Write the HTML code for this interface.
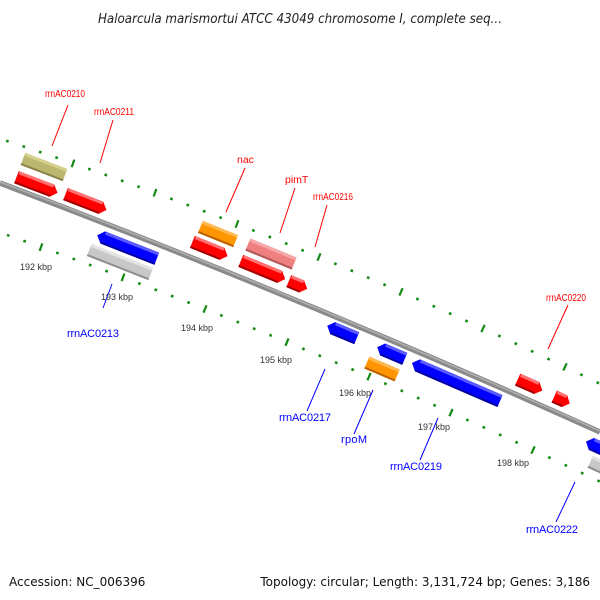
<!DOCTYPE html>
<html><head><meta charset="utf-8"><style>
html,body{margin:0;padding:0;background:#fff;width:600px;height:600px;overflow:hidden}
svg{display:block}
</style></head><body>
<svg id="s" width="600" height="600" xmlns="http://www.w3.org/2000/svg" font-family="'DejaVu Sans','Liberation Sans',sans-serif">
<text x="300" y="23" text-anchor="middle" font-size="13" font-style="italic" fill="#222" textLength="404" lengthAdjust="spacingAndGlyphs">Haloarcula marismortui ATCC 43049 chromosome I, complete seq...</text>
<g id="dots"></g>
<path d="M0,183 Q300,296.5 600,432" fill="none" stroke="#8a8a8a" stroke-width="5.5"/>
<path d="M0,182 Q300,295.5 600,431" fill="none" stroke="#b0b0b0" stroke-width="1.5"/>
<g id="genes"></g>
<g font-family="'Liberation Sans',sans-serif" font-size="10">
<g stroke="#f00" stroke-width="1">
<line x1="68" y1="105" x2="52" y2="146"/><line x1="113" y1="120" x2="100" y2="163"/>
<line x1="245" y1="168" x2="226" y2="212"/><line x1="295" y1="188" x2="280" y2="233"/>
<line x1="327" y1="205" x2="315" y2="247"/><line x1="568" y1="305" x2="548" y2="349"/>
</g>
<g fill="#f00" font-size="10.5">
<text x="45" y="97" textLength="40" lengthAdjust="spacingAndGlyphs">rrnAC0210</text>
<text x="94" y="115" textLength="40" lengthAdjust="spacingAndGlyphs">rrnAC0211</text>
<text x="237" y="163">nac</text>
<text x="285" y="183">pimT</text>
<text x="313" y="200" textLength="40" lengthAdjust="spacingAndGlyphs">rrnAC0216</text>
<text x="546" y="301" textLength="40" lengthAdjust="spacingAndGlyphs">rrnAC0220</text>
</g>
<g stroke="#00f" stroke-width="1">
<line x1="112" y1="284" x2="103" y2="308"/><line x1="325" y1="369" x2="307" y2="411"/>
<line x1="373" y1="390" x2="354" y2="434"/><line x1="438" y1="418" x2="420" y2="460"/>
<line x1="575" y1="482" x2="556" y2="522"/>
</g>
<g fill="#00f" font-size="11">
<text x="67" y="337" textLength="52" lengthAdjust="spacing">rrnAC0213</text>
<text x="279" y="421" textLength="52" lengthAdjust="spacing">rrnAC0217</text>
<text x="341" y="443" textLength="26" lengthAdjust="spacing">rpoM</text>
<text x="390" y="470" textLength="52" lengthAdjust="spacing">rrnAC0219</text>
<text x="526" y="533" textLength="52" lengthAdjust="spacing">rrnAC0222</text>
</g>
<g fill="#333" font-size="9">
<text x="20" y="270">192 kbp</text><text x="101" y="300">193 kbp</text>
<text x="181" y="331">194 kbp</text><text x="260" y="363">195 kbp</text>
<text x="339" y="396">196 kbp</text><text x="418" y="430">197 kbp</text>
<text x="497" y="466">198 kbp</text>
</g>
</g>
<text x="9" y="586" font-size="12" fill="#111">Accession: NC_006396</text>
<text x="590" y="586" font-size="12" fill="#111" text-anchor="end">Topology: circular; Length: 3,131,724 bp; Genes: 3,186</text>
</svg>
<script>
var NS="http://www.w3.org/2000/svg";
function el(t,a,p){var e=document.createElementNS(NS,t);for(var k in a)e.setAttribute(k,a[k]);p.appendChild(e);return e;}
function curve(A,B,C){return function(x){return {y:A+B*x+C*x*x,s:B+2*C*x};};}
var up=curve(138.7,0.3282,1.34e-4), lo=curve(232.5,0.3513,1.065e-4);
var dots=document.getElementById('dots');
function track(f,x0){
 for(var k=-6;k<40;k++){var x=x0+16.4*k; if(x<2||x>600)continue;
  var p=f(x),a=Math.atan(p.s);
  if(((k%5)+5)%5==0){var dx=Math.sin(a)*4,dy=-Math.cos(a)*4;
   el('line',{x1:x-dx,y1:p.y-dy,x2:x+dx,y2:p.y+dy,stroke:'#138a13','stroke-width':2.2},dots);}
  else el('rect',{x:x-1.3,y:p.y-1.3,width:2.6,height:2.6,fill:'#138a13',transform:'rotate('+(a*180/Math.PI)+' '+x+' '+p.y+')'},dots);
 }}
track(up,73);track(lo,41);
var C={red:['#f00','#ff7070','#a00000'],blue:['#00f','#5a5aff','#0000a0'],olive:['#bdb66e','#d6d08e','#8a844c'],
 orange:['#ff9500','#ffb850','#b86000'],pink:['#f08080','#f6a8a8','#b05858'],gray:['#c8c8c8','#e4e4e4','#8e8e8e']};
var G=[[44,167,45,'olive',0],[37,185,44,'red',1],[86,202,44,'red',1],[127,247,64,'blue',-1],[120,262,66,'gray',0],
[218,234,38,'orange',0],[210,249,38,'red',1],[271,254,50,'pink',0],[263,270,48,'red',1],[298,285,20,'red',1],
[342,332,32,'blue',-1],[391,353,30,'blue',-1],[382,369,33,'orange',0],[456,382,96,'blue',-1],[530,385,27,'red',1],
[562,400,17,'red',1],[596,446,22,'blue',-1],[604,468,30,'gray',0]];
var gg=document.getElementById('genes');
G.forEach(function(g){var x=g[0],y=g[1],L=g[2],c=C[g[3]],d=g[4],h=6.5;
 var a=Math.atan(0.378+1.22e-4*x)*180/Math.PI;
 var grp=el('g',{transform:'translate('+x+' '+y+') rotate('+a+')'},gg);
 var l=-L/2,r=L/2,t=Math.min(6,L/3),pts;
 if(d==1)pts=[[l,-h],[r-t,-h],[r,0],[r-t,h],[l,h]];
 else if(d==-1)pts=[[l+t,-h],[r,-h],[r,h],[l+t,h],[l,0]];
 else pts=[[l,-h],[r,-h],[r,h],[l,h]];
 el('polygon',{points:pts.map(function(p){return p.join(',');}).join(' '),fill:c[0]},grp);
 el('rect',{x:l+(d==-1?t:0)+1,y:-h,width:L-t-1,height:3,fill:c[1]},grp);
 if(d==0)el('rect',{x:l,y:-h,width:L,height:3,fill:c[1]},grp);
 el('rect',{x:l+(d==-1?t:0),y:h-2,width:(d==0?L:L-t),height:2,fill:c[2]},grp);
});
</script>
</body></html>
